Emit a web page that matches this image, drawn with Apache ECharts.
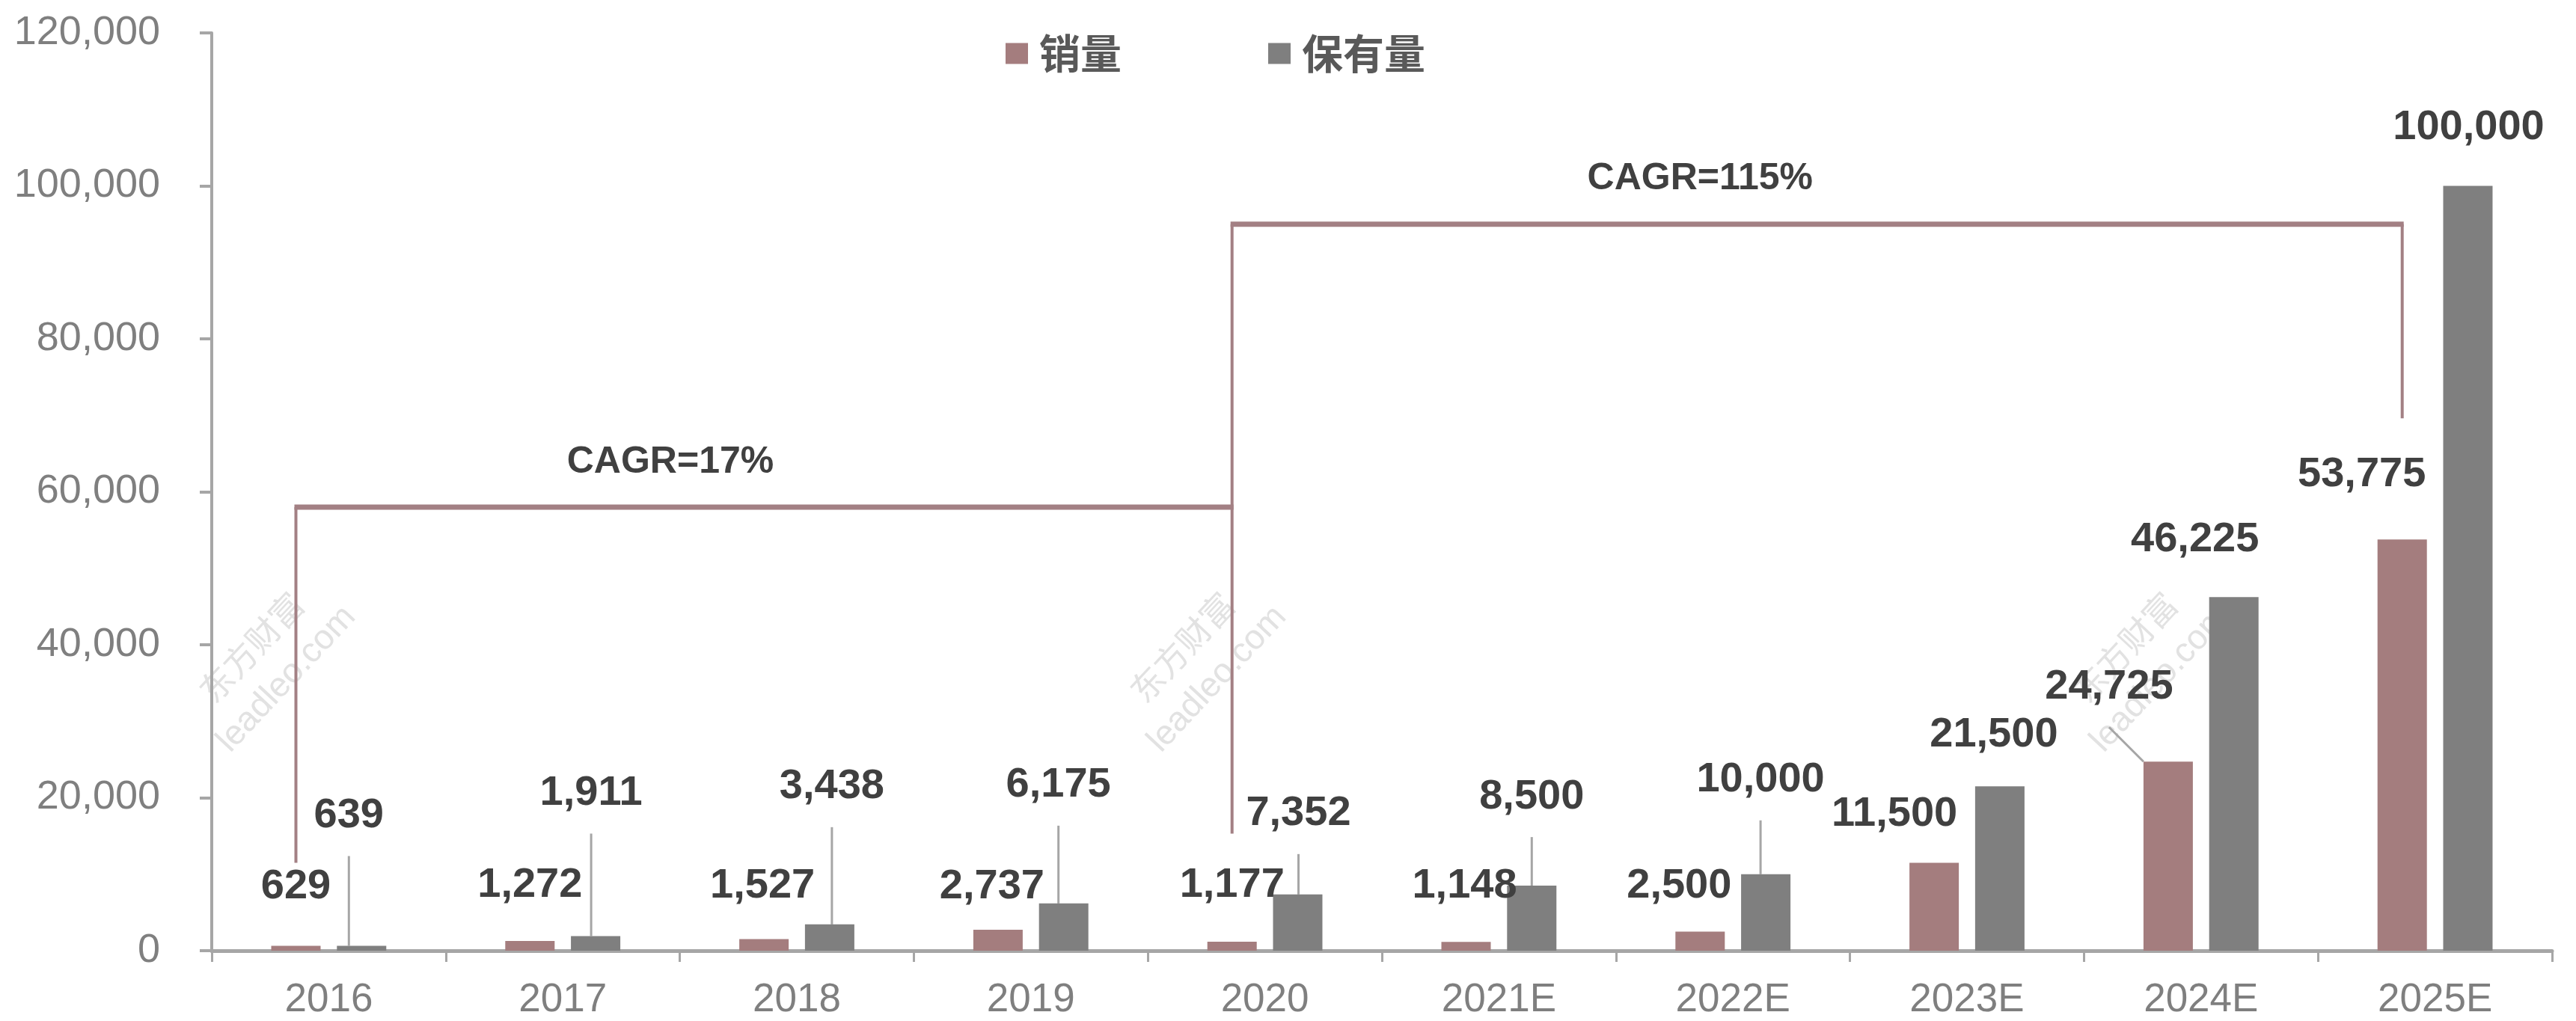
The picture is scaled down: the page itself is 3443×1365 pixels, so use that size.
<!DOCTYPE html>
<html>
<head>
<meta charset="utf-8">
<title>销量与保有量</title>
<script src="https://cdn.jsdelivr.net/npm/echarts@6/dist/echarts.min.js"></script>
<style>
  html, body { margin: 0; padding: 0; background: #ffffff; }
  #chart { width: 3443px; height: 1365px; }
</style>
</head>
<body>
<div id="chart"></div>
<script>
// ---- data ----
const years = ['2016', '2017', '2018', '2019', '2020', '2021E', '2022E', '2023E', '2024E', '2025E'];
const sales = [629, 1272, 1527, 2737, 1177, 1148, 2500, 11500, 24725, 53775];
const stock = [639, 1911, 3438, 6175, 7352, 8500, 10000, 21500, 46225, 100000];

// growth brackets: first/last category index, bracket level, lower ends of the legs
const cagrText = ['CAGR=17%', 'CAGR=115%'];
const cagrFrom = [0, 4];
const cagrTo = [4, 9];
const cagrLevel = [58000, 95000];
const cagrLeftEnd = [11500, 15300];
const cagrRightEnd = [null, 69600];

// ---- layout / style ----
// label centre relative to the top centre of its bar, in px, and whether a leader line is drawn
const salesLabelOffset = [[0, -79], [0, -74], [-2, -71], [-8, -57], [0, -75], [-2, -75], [-28, -61], [-53, -65], [-79, -100], [-54, -87]];
const salesLeader = [0, 0, 0, 0, 0, 0, 0, 0, 1, 0];
const stockLabelOffset = [[-17, -174], [-6, -191], [3, -184], [-7, -158], [1, -108], [0, -119], [-7, -126], [-8, -69], [-52, -77], [1, -78]];
const stockLeader = [1, 1, 1, 1, 1, 1, 1, 0, 0, 0];

const PINK = '#A47D7E';
const GREY = '#7F7F7F';
const AXIS = '#A6A6A6';
const BRACKET = '#A38084';
const BAR_W = 66;
const BAR_GAP = 0.33;
const LATIN = '"Liberation Sans", Arial, sans-serif';
const CJK = '"Noto Sans CJK SC", "Liberation Sans", sans-serif';

const fmt = v => Number(v).toLocaleString('en-US');

function placeLabel(offsets) {
  return function (p) {
    const o = offsets[p.dataIndex];
    return {
      x: p.rect.x + p.rect.width / 2 + o[0],
      y: p.rect.y + o[1],
      align: 'center',
      verticalAlign: 'middle'
    };
  };
}

const valueLabel = {
  show: true,
  position: 'top',
  formatter: p => fmt(p.value),
  fontFamily: LATIN,
  fontSize: 56,
  fontWeight: 'bold',
  color: '#404040',
  padding: [26, 0, 26, 0],
  backgroundColor: 'rgba(255,255,255,0)'
};

const leaderLine = { show: false, lineStyle: { color: AXIS, width: 3 } };

// faint site marks in the plot background
const markX = [336, 1580, 2840];
const markRot = 47 * Math.PI / 180;
const marks = [];
markX.forEach(x => {
  marks.push({
    type: 'text', x: x, y: 865, rotation: markRot, silent: true, z: 0,
    style: { text: '东方财富', font: '45px ' + CJK, fill: '#E2E2E2', align: 'center', verticalAlign: 'middle' }
  });
  marks.push({
    type: 'text', x: x + 47, y: 908, rotation: markRot, silent: true, z: 0,
    style: { text: 'leadleo.com', font: '46px ' + LATIN, fill: '#E2E2E2', align: 'center', verticalAlign: 'middle' }
  });
});

const chart = echarts.init(document.getElementById('chart'), null, { renderer: 'canvas' });

chart.setOption({
  animation: false,
  backgroundColor: '#ffffff',
  graphic: marks,
  grid: { left: 283, right: 32, top: 44, bottom: 94, containLabel: false },
  legend: {
    data: ['销量', '保有量'],
    left: 1344,
    top: 44,
    padding: 0,
    icon: 'rect',
    itemWidth: 30,
    itemHeight: 28,
    itemGap: 196,
    textStyle: { fontFamily: CJK, fontSize: 55, fontWeight: 'bold', color: '#595959', padding: [0, 0, 0, 10] }
  },
  xAxis: {
    type: 'category',
    data: years,
    boundaryGap: true,
    axisLine: { show: true, lineStyle: { color: AXIS, width: 5 } },
    axisTick: { show: true, alignWithLabel: false, length: 15, lineStyle: { color: AXIS, width: 3 } },
    axisLabel: { fontFamily: LATIN, fontSize: 53, color: '#7F7F7F', margin: 40 },
    splitLine: { show: false }
  },
  yAxis: {
    type: 'value',
    min: 0,
    max: 120000,
    interval: 20000,
    axisLine: { show: true, lineStyle: { color: AXIS, width: 4 } },
    axisTick: { show: true, length: 16, lineStyle: { color: AXIS, width: 4 } },
    axisLabel: { fontFamily: LATIN, fontSize: 54, color: '#7F7F7F', margin: 69, formatter: v => fmt(v) },
    splitLine: { show: false }
  },
  series: [
    {
      name: '销量',
      type: 'bar',
      barWidth: BAR_W,
      barGap: (BAR_GAP * 100) + '%',
      itemStyle: { color: PINK },
      data: sales.map((v, i) => ({ value: v, labelLine: { show: !!salesLeader[i] } })),
      label: valueLabel,
      labelLine: leaderLine,
      labelLayout: placeLabel(salesLabelOffset),
      z: 3
    },
    {
      name: '保有量',
      type: 'bar',
      barWidth: BAR_W,
      barGap: (BAR_GAP * 100) + '%',
      itemStyle: { color: GREY },
      data: stock.map((v, i) => ({ value: v, labelLine: { show: !!stockLeader[i] } })),
      label: valueLabel,
      labelLine: leaderLine,
      labelLayout: placeLabel(stockLabelOffset),
      z: 3
    },
    {
      name: 'CAGR',
      type: 'custom',
      silent: true,
      z: 2,
      encode: { x: 0, y: 1 },
      data: cagrLevel.map((v, i) => [cagrFrom[i], v]),
      renderItem: function (params, api) {
        const i = params.dataIndex;
        // legs stand on the centre of the 销量 bar of each category
        const shift = -(BAR_W + BAR_W * BAR_GAP) / 2;
        const pt = (c, v) => {
          const p = api.coord([c, v]);
          return [p[0] + shift, p[1]];
        };
        const a = pt(cagrFrom[i], cagrLevel[i]);
        const b = pt(cagrTo[i], cagrLevel[i]);
        const children = [];
        children.push({
          type: 'line',
          shape: { x1: a[0] - 2, y1: a[1], x2: b[0] + 2, y2: b[1] },
          style: { stroke: BRACKET, lineWidth: 7 }
        });
        const l = pt(cagrFrom[i], cagrLeftEnd[i]);
        children.push({
          type: 'line',
          shape: { x1: a[0], y1: a[1], x2: l[0], y2: l[1] },
          style: { stroke: BRACKET, lineWidth: 4 }
        });
        if (cagrRightEnd[i] != null) {
          const r = pt(cagrTo[i], cagrRightEnd[i]);
          children.push({
            type: 'line',
            shape: { x1: b[0], y1: b[1], x2: r[0], y2: r[1] },
            style: { stroke: BRACKET, lineWidth: 4 }
          });
        }
        children.push({
          type: 'text',
          x: a[0] + (b[0] - a[0]) * 0.4,
          y: a[1] - 60,
          style: {
            text: cagrText[i],
            font: 'bold 50px ' + LATIN,
            fill: '#404040',
            align: 'center',
            verticalAlign: 'middle'
          }
        });
        return { type: 'group', children: children };
      }
    }
  ]
});
</script>
</body>
</html>
